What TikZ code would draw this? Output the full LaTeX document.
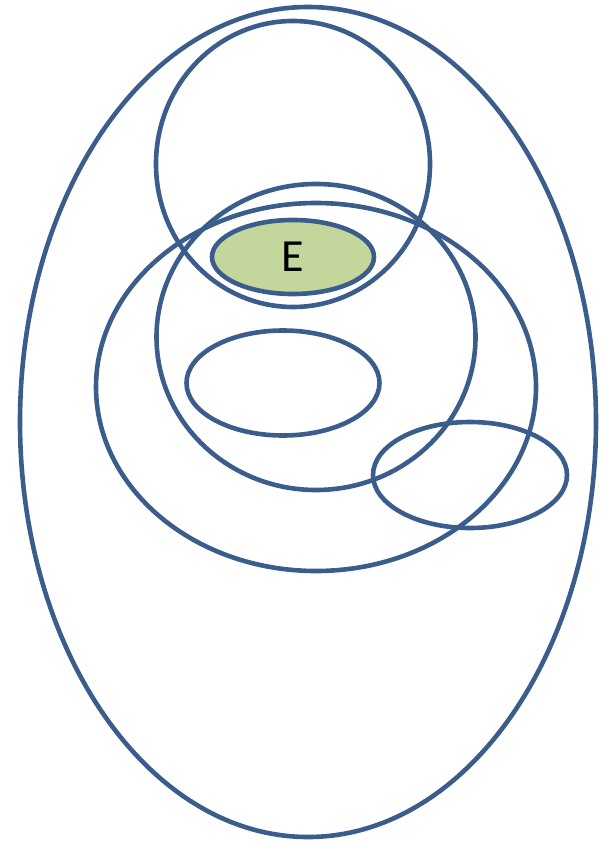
\documentclass[tikz,border=0pt]{standalone}
\usepackage{fontspec}
\setmainfont{Carlito}
\usetikzlibrary{shapes.geometric}
\definecolor{setblue}{HTML}{3A5D8C}
\definecolor{setgreen}{HTML}{C3D69B}
\tikzset{
    setline/.style={draw=setblue, line width=4.6pt, ellipse, inner sep=0pt},
}
\begin{document}
\begin{tikzpicture}[x=1pt, y=-1pt]
    \useasboundingbox (0,0) rectangle (606,842);
    % Sets
    \node[setline, minimum width=576pt, minimum height=830pt] (outer) at (308,422) {};
    \node[setline, minimum width=274pt, minimum height=286pt] (top) at (293,164) {};
    \node[setline, minimum width=440pt, minimum height=368pt] (big) at (316,387) {};
    \node[setline, minimum width=319pt, minimum height=306pt] (mid) at (316,337) {};
    \node[setline, minimum width=193pt, minimum height=105pt] (inner) at (283,383) {};
    \node[setline, minimum width=194pt, minimum height=106pt] (right) at (470,475) {};
    % Element
    \node[setline, fill=setgreen, minimum width=162pt, minimum height=74pt,
          font=\fontsize{46}{50}\selectfont] (E) at (293,257) {E};
\end{tikzpicture}
\end{document}
